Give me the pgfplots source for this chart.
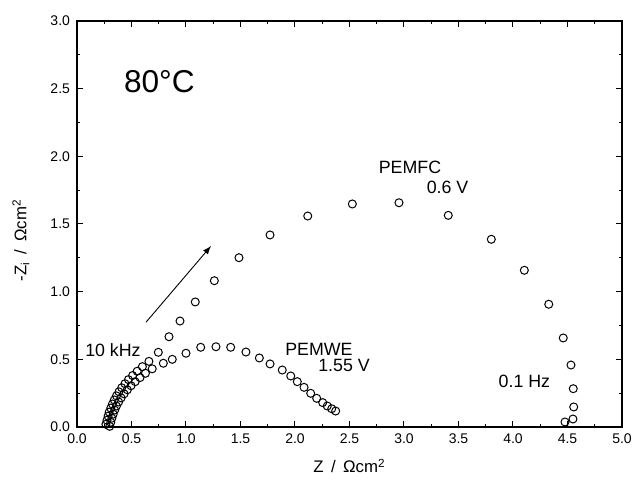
\documentclass[border=0pt]{standalone}
\usepackage{fontspec}
\setmainfont{Liberation Sans}
\usepackage{pgfplots}
\pgfplotsset{compat=1.18}

% PEMFC at 0.6 V, from 10 kHz (lower left) to 0.1 Hz
\pgfplotstableread{
x y
0.265 0.020
0.275 0.050
0.285 0.080
0.295 0.110
0.310 0.140
0.325 0.170
0.342 0.200
0.362 0.230
0.385 0.260
0.410 0.290
0.440 0.320
0.472 0.350
0.510 0.380
0.552 0.412
0.600 0.446
0.660 0.485
0.746 0.552
0.844 0.667
0.945 0.783
1.085 0.924
1.260 1.081
1.486 1.251
1.771 1.419
2.117 1.559
2.526 1.648
2.954 1.657
3.406 1.564
3.801 1.387
4.104 1.158
4.328 0.907
4.461 0.658
4.532 0.458
4.553 0.283
4.557 0.148
4.550 0.059
4.477 0.037
}\fcdata

% PEMWE at 1.55 V
\pgfplotstableread{
x y
0.300 0.005
0.310 0.035
0.320 0.065
0.332 0.095
0.346 0.125
0.362 0.155
0.382 0.185
0.405 0.215
0.432 0.245
0.462 0.275
0.496 0.305
0.534 0.335
0.578 0.365
0.628 0.397
0.690 0.430
0.792 0.471
0.874 0.500
1.000 0.545
1.135 0.589
1.275 0.593
1.410 0.589
1.550 0.554
1.673 0.510
1.771 0.466
1.883 0.421
1.961 0.377
2.021 0.335
2.083 0.293
2.144 0.249
2.199 0.212
2.254 0.180
2.296 0.155
2.337 0.135
2.373 0.118
}\wedata

\begin{document}
\begin{tikzpicture}
\path[use as bounding box] (-38.5pt,-27.5pt) rectangle (278pt,213.5pt);
\begin{axis}[
  at={(0pt,0pt)}, anchor=south west,
  scale only axis,
  width=272.5pt, height=203pt,
  xmin=0, xmax=5, ymin=0, ymax=3,
  xtick={0,0.5,...,5}, ytick={0,0.5,...,3},
  minor tick num=1,
  tick align=inside,
  major tick length=3pt, minor tick length=1.6pt,
  axis line style={line width=0.6pt},
  tick style={line width=0.5pt, black},
  xticklabel style={/pgf/number format/.cd, fixed, fixed zerofill, precision=1},
  yticklabel style={/pgf/number format/.cd, fixed, fixed zerofill, precision=1},
  /pgf/number format/assume math mode=true,
  tick label style={font=\fontsize{7}{8}\selectfont},
  xlabel={Z\, /\, Ωcm\textsuperscript{2}},
  ylabel={-Z\textsubscript{i}\, /\, Ωcm\textsuperscript{2}},
  label style={font=\fontsize{8.4}{9}\selectfont},
  xlabel style={at={(axis description cs:0.5,-0.096)}, anchor=center},
  ylabel style={at={(axis description cs:-0.103,0.46)}, anchor=center},
  clip=false,
]
\addplot[only marks, mark=o, mark size=2pt, line width=0.5pt, black] table {\fcdata};
\addplot[only marks, mark=o, mark size=2pt, line width=0.5pt, black] table {\wedata};

\draw[-latex, line width=0.45pt] (axis cs:0.633,0.774) -- (axis cs:1.229,1.337);

\node[anchor=west, font=\fontsize{15.8}{17}\selectfont] at (axis cs:0.367,2.55) {80°C};
\node[font=\fontsize{8.9}{10}\selectfont] at (axis cs:3.055,1.92) {PEMFC};
\node[font=\fontsize{8.9}{10}\selectfont] at (axis cs:3.40,1.77) {0.6 V};
\node[font=\fontsize{8.9}{10}\selectfont] at (axis cs:4.105,0.335) {0.1 Hz};
\node[font=\fontsize{8.9}{10}\selectfont] at (axis cs:0.33,0.57) {10 kHz};
\node[font=\fontsize{8.9}{10}\selectfont] at (axis cs:2.22,0.57) {PEMWE};
\node[font=\fontsize{8.9}{10}\selectfont] at (axis cs:2.45,0.458) {1.55 V};
\end{axis}
\end{tikzpicture}
\end{document}
